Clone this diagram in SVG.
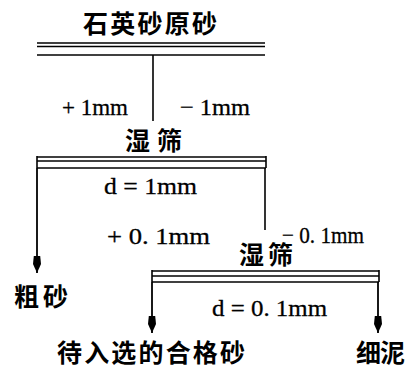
<svg xmlns="http://www.w3.org/2000/svg" width="408" height="369" viewBox="0 0 408 369">
<defs>
<style>
.cn{font-family:"Noto Sans CJK SC","Noto Sans CJK JP",sans-serif;font-weight:bold;font-size:25px;fill:#000}
.lt{font-family:"Liberation Serif",serif;font-size:24px;fill:#000;stroke:#000;stroke-width:0.3}
.ln{stroke:#000;stroke-width:1.6;fill:none}
.ar{stroke:#000;stroke-width:1.8;fill:none}
</style>
<marker id="ah" markerUnits="userSpaceOnUse" markerWidth="18" markerHeight="10" refX="17" refY="5" orient="auto" viewBox="0 0 18 10">
<path d="M0,1.8 L8,1 L17,5 L8,9 L0,8.2 Z" fill="#000"/>
</marker>
</defs>
<rect width="408" height="369" fill="#fff"/>
<g id="n-raw">
<text class="cn" x="83" y="33" textLength="134" lengthAdjust="spacing">石英砂原砂</text>
<line class="ln" x1="37" y1="43" x2="265" y2="43" stroke-width="2"/>
<line class="ln" x1="37" y1="46.5" x2="265" y2="46.5"/>
<line class="ln" x1="37" y1="55" x2="265" y2="55"/>
</g>
<g id="n-sieve1">
<text class="cn" x="125" y="150" textLength="57" lengthAdjust="spacing" font-size="24">湿筛</text>
<line class="ln" x1="37" y1="157" x2="266" y2="157"/>
<line class="ln" x1="37" y1="161" x2="266" y2="161"/>
<line class="ln" x1="37" y1="168" x2="266" y2="168"/>
<line class="ln" x1="37" y1="156" x2="37" y2="168"/>
<line class="ln" x1="266" y1="156" x2="266" y2="168"/>
<text class="lt" x="104" y="194" textLength="93" lengthAdjust="spacingAndGlyphs">d = 1mm</text>
</g>
<g id="n-sieve2">
<text class="cn" x="239" y="264" textLength="54" lengthAdjust="spacing" font-size="24">湿筛</text>
<line class="ln" x1="152" y1="271" x2="379" y2="271"/>
<line class="ln" x1="152" y1="276" x2="379" y2="276"/>
<line class="ln" x1="152" y1="282" x2="379" y2="282"/>
<line class="ln" x1="152" y1="270" x2="152" y2="282"/>
<line class="ln" x1="379" y1="270" x2="379" y2="282"/>
<text class="lt" x="212" y="316" textLength="115" lengthAdjust="spacingAndGlyphs">d = 0. 1mm</text>
</g>
<g id="n-coarse">
<text class="cn" x="14" y="306" textLength="54" lengthAdjust="spacing">粗砂</text>
</g>
<g id="n-product">
<text class="cn" x="57" y="362" textLength="188" lengthAdjust="spacing" font-size="24">待入选的合格砂</text>
</g>
<g id="n-slime">
<text class="cn" x="356" y="362" textLength="49" lengthAdjust="spacing" font-size="23">细泥</text>
</g>
<g id="connectors">
<line class="ln" x1="153" y1="55" x2="153" y2="121"/>
<text class="lt" x="62" y="115" textLength="66" lengthAdjust="spacingAndGlyphs">+ 1mm</text>
<text class="lt" x="180" y="115" textLength="70" lengthAdjust="spacingAndGlyphs">− 1mm</text>
<line class="ar" x1="37" y1="168" x2="37" y2="273" marker-end="url(#ah)"/>
<line class="ln" x1="265" y1="168" x2="265" y2="230"/>
<text class="lt" x="107" y="244" textLength="103" lengthAdjust="spacingAndGlyphs">+ 0. 1mm</text>
<text class="lt" x="282" y="243" textLength="82" lengthAdjust="spacingAndGlyphs">− 0. 1mm</text>
<line class="ar" x1="152" y1="282" x2="152" y2="333" marker-end="url(#ah)"/>
<line class="ar" x1="378" y1="282" x2="378" y2="333" marker-end="url(#ah)"/>
</g>
</svg>
